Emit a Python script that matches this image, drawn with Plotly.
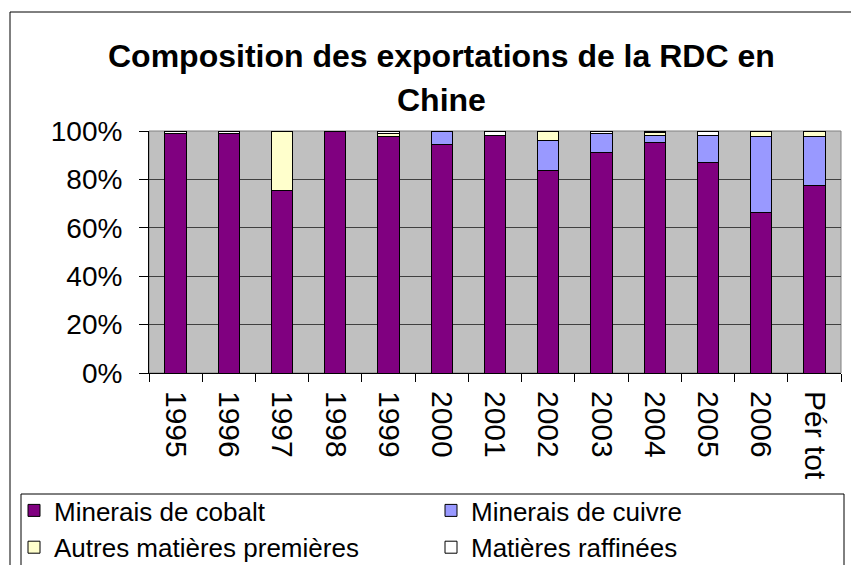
import plotly.graph_objects as go

categories = ["1995", "1996", "1997", "1998", "1999", "2000", "2001",
              "2002", "2003", "2004", "2005", "2006", "Pér tot"]
cobalt = [99.0, 99.0, 75.3, 100.0, 97.8, 94.5, 98.3, 83.6, 91.2, 95.2, 86.9, 66.5, 77.4]
cuivre = [0, 0, 0, 0, 0, 5.5, 0, 12.3, 7.8, 3.1, 11.4, 31.4, 20.5]
autres = [0, 0, 24.7, 0, 1.2, 0, 0, 4.1, 0, 0.9, 0, 2.1, 2.1]
raffinees = [1.0, 1.0, 0, 0, 1.0, 0, 1.7, 0, 1.0, 0.8, 1.7, 0, 0]
y_ticks = [0, 0.2, 0.4, 0.6, 0.8, 1.0]
title_lines = ["Composition des exportations de la RDC en", "Chine"]

series = [
    ("Minerais de cobalt", cobalt, "#800080"),
    ("Minerais de cuivre", cuivre, "#9999FF"),
    ("Autres matières premières", autres, "#FFFFCC"),
    ("Matières raffinées", raffinees, "#FFFFFF"),
]

FONT = "Liberation Sans"
# page has an 8px body margin; the figure is sized to fit the window
W, H = 851, 557
L, R, T, B = 141, 18, 123, 192
pw, ph = W - L - R, H - T - B

fig = go.Figure()
for name, vals, col in series:
    fig.add_trace(go.Bar(
        x=categories,
        y=[v / 100 if v else None for v in vals],
        name=name,
        marker=dict(color=col, line=dict(color="#000000", width=1)),
        width=0.4,
    ))

def px_x(p):
    return (p - L) / pw

def px_y(p):
    return (H - B - p) / ph

shapes = [
    # outer chart frame
    dict(type="rect", xref="paper", yref="paper",
         x0=px_x(2), x1=px_x(900), y0=px_y(4), y1=px_y(700),
         line=dict(color="#000000", width=1), fillcolor="rgba(0,0,0,0)", layer="below"),
    # plot area border
    dict(type="rect", xref="paper", yref="paper", x0=0, x1=1, y0=0, y1=1,
         line=dict(color="#808080", width=1), fillcolor="rgba(0,0,0,0)", layer="below"),
    # legend box
    dict(type="rect", xref="paper", yref="paper",
         x0=px_x(13), x1=px_x(836), y0=px_y(486), y1=px_y(700),
         line=dict(color="#000000", width=1), fillcolor="#FFFFFF", layer="below"),
]

annotations = []
for i, line in enumerate(title_lines):
    annotations.append(dict(
        text="<b>%s</b>" % line, showarrow=False,
        xref="paper", yref="paper",
        x=px_x(433), xanchor="center",
        y=px_y(48 + 44 * i), yanchor="middle",
        font=dict(family=FONT, size=32, color="#000000"),
    ))

fig.update_layout(
    width=W, height=H,
    margin=dict(l=L, r=R, t=T, b=B, autoexpand=False),
    paper_bgcolor="#FFFFFF",
    plot_bgcolor="#C0C0C0",
    barmode="stack",
    font=dict(family=FONT, color="#000000", size=28),
    xaxis=dict(
        type="category",
        tickangle=90,
        tickson="boundaries",
        ticks="outside", ticklen=8, tickcolor="#000000",
        ticklabelstandoff=11,
        showline=True, linecolor="#000000", linewidth=1,
        showgrid=False,
        tickfont=dict(family=FONT, size=30, color="#000000"),
        automargin=False,
    ),
    yaxis=dict(
        range=[0, 1],
        tickvals=y_ticks,
        tickformat=".0%",
        ticks="outside", ticklen=9, tickcolor="#000000",
        ticklabelstandoff=11,
        showline=True, linecolor="#000000", linewidth=1,
        showgrid=True, gridcolor="#404040", gridwidth=1,
        zeroline=False,
        tickfont=dict(family=FONT, size=28, color="#000000"),
        automargin=False,
    ),
    legend=dict(
        orientation="h",
        xref="paper", yref="paper",
        x=px_x(6), xanchor="left",
        y=px_y(479), yanchor="top",
        entrywidth=372, entrywidthmode="pixels",
        borderwidth=0,
        bgcolor="rgba(0,0,0,0)",
        font=dict(family=FONT, size=26, color="#000000"),
        traceorder="normal",
        tracegroupgap=0,
    ),
    annotations=annotations,
    shapes=shapes,
    showlegend=True,
)

fig.write_html("out.html")
